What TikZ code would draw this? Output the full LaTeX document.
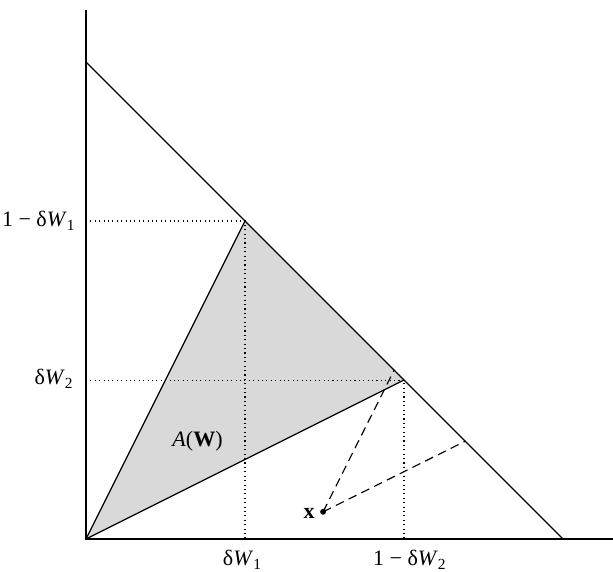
\documentclass[tikz,border=0pt]{standalone}
\usepackage{fontspec}
\setmainfont{Liberation Serif}
\begin{document}
\begin{tikzpicture}[x=8cm,y=8cm,
  axis/.style={line width=1.2pt},
  edge/.style={line width=0.6pt},
  guide/.style={line width=0.5pt, dash pattern=on 0.5pt off 1.6pt},
  proj/.style={line width=0.55pt, dash pattern=on 4.2pt off 2.6pt},
  lbl/.style={inner sep=0pt, font=\fontsize{10.5}{12}\selectfont}]
\useasboundingbox (-0.1803,-0.0671) rectangle (1.1048,1.1300);
% points
\coordinate (O) at (0,0);
\coordinate (P) at (1/3,2/3);
\coordinate (Q) at (2/3,1/3);
\coordinate (Ytop) at (0,1.11);
\coordinate (Xend) at (1.1048,0);
\coordinate (D1) at (0,1);
\coordinate (D2) at (1,0);
\coordinate (Py) at (0,2/3);
\coordinate (Px) at (1/3,0);
\coordinate (Qy) at (0,1/3);
\coordinate (Qx) at (2/3,0);
\coordinate (X) at (0.497,0.057);
\coordinate (E1) at (0.6463,0.3547);
\coordinate (E2) at (0.7957,0.2053);
% shaded region
\fill[black!15] (O) -- (P) -- (Q) -- cycle;
% guides
\draw[guide] (Py) -- (P) -- (Px);
\draw[guide] (Qy) -- (Q) -- (Qx);
% triangle edges and diagonal
\draw[edge] (O) -- (P);
\draw[edge] (O) -- (Q);
\draw[edge] (D1) -- (D2);
% projections
\draw[proj] (X) -- (E1);
\draw[proj] (X) -- (E2);
\fill (X) circle (1.4pt);
% axes
\draw[axis] (Ytop) -- (O) -- (Xend);
% labels
\node[lbl, anchor=base east] (l1) at (-0.021,0.6547) {1 − δ\textit{W}\textsubscript{1}};
\node[lbl, anchor=base east] (l2) at (-0.025,0.3229) {δ\textit{W}\textsubscript{2}};
\node[lbl, anchor=base] (b1) at (0.328,-0.0565) {δ\textit{W}\textsubscript{1}};
\node[lbl, anchor=base] (b2) at (0.679,-0.0565) {1 − δ\textit{W}\textsubscript{2}};
\node[lbl, anchor=base] (A) at (0.2338,0.1935) {\textit{A}(\textbf{W})};
\node[lbl, anchor=base east] (xl) at (0.480,0.042) {\textbf{x}};
\end{tikzpicture}
\end{document}
